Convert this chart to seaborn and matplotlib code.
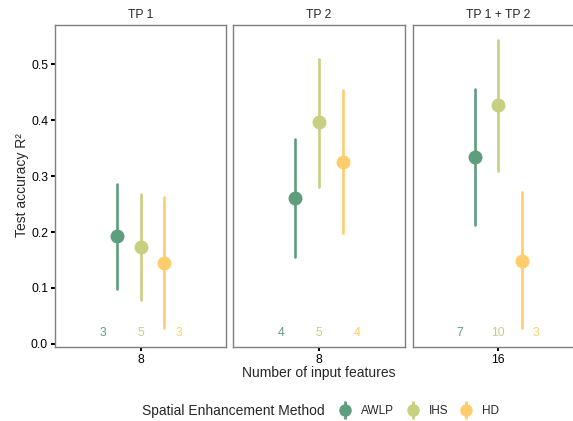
import matplotlib
matplotlib.use("Agg")
import matplotlib.pyplot as plt
from matplotlib.lines import Line2D
from matplotlib.legend_handler import HandlerTuple
import seaborn as sns
import pandas as pd

sns.set_style("white")
plt.rcParams["font.family"] = ["Liberation Sans", "DejaVu Sans"]

panels = ["TP 1", "TP 2", "TP 1 + TP 2"]
n_features = ["8", "8", "16"]
methods = ["AWLP", "IHS", "HD"]
colors = ["#5f9e7d", "#c9cf80", "#ffcc6e"]

awlp_mean = [0.192, 0.261, 0.334]
awlp_lo = [0.098, 0.156, 0.212]
awlp_hi = [0.286, 0.366, 0.455]
ihs_mean = [0.173, 0.396, 0.427]
ihs_lo = [0.079, 0.281, 0.309]
ihs_hi = [0.268, 0.510, 0.544]
hd_mean = [0.145, 0.326, 0.149]
hd_lo = [0.029, 0.199, 0.028]
hd_hi = [0.262, 0.453, 0.271]

awlp_n = [3, 4, 7]
ihs_n = [5, 5, 10]
hd_n = [3, 4, 3]

means = {"AWLP": awlp_mean, "IHS": ihs_mean, "HD": hd_mean}
los = {"AWLP": awlp_lo, "IHS": ihs_lo, "HD": hd_lo}
his = {"AWLP": awlp_hi, "IHS": ihs_hi, "HD": hd_hi}
counts = {"AWLP": awlp_n, "IHS": ihs_n, "HD": hd_n}

rows = []
for i, p in enumerate(panels):
    for m in methods:
        for v in (los[m][i], means[m][i], his[m][i]):
            rows.append({"panel": p, "features": n_features[i], "method": m, "value": v})
df = pd.DataFrame(rows)

W, H = 573, 421
fig = plt.figure(figsize=(W / 100, H / 100), dpi=100)
lefts = [55, 233.3, 412.7]
pw = 171.3
top, bottom = 25, 346.7
frame_col = "#7f7f7f"
text_off = [-0.267, 0.0, 0.267]

for i, p in enumerate(panels):
    ax = fig.add_axes([lefts[i] / W, 1 - bottom / H, pw / W, (bottom - top) / H])
    sub = df[df.panel == p]
    sns.pointplot(data=sub, x="features", y="value", hue="method", hue_order=methods,
                  palette=colors, estimator="median",
                  errorbar=lambda v: (v.min(), v.max()), dodge=0.333,
                  linestyle="none", markersize=8, err_kws={"linewidth": 1.9},
                  ax=ax, legend=False)
    for j, m in enumerate(methods):
        ax.text(text_off[j], 0.02, str(counts[m][i]), color=colors[j],
                ha="center", va="center", fontsize=8.8)
    ax.set_xlim(-0.6, 0.6)
    ax.set_ylim(-0.005, 0.57)
    ax.set_xlabel("")
    ax.set_ylabel("")
    ax.set_title(p, fontsize=8.8, pad=5)
    for s in ax.spines.values():
        s.set_color(frame_col)
        s.set_linewidth(1.0)
        s.set_visible(True)
    ax.tick_params(axis="x", bottom=True, length=3, width=1.4, color="black",
                   labelsize=8.8, pad=2, labelcolor="black")
    if i == 0:
        ax.set_yticks([0.0, 0.1, 0.2, 0.3, 0.4, 0.5])
        ax.set_yticklabels(["0.0", "0.1", "0.2", "0.3", "0.4", "0.5"])
        ax.tick_params(axis="y", left=True, length=3, width=1.4, color="black",
                       labelsize=8.8, pad=2, labelcolor="black")
    else:
        ax.set_yticks([])

fig.text(22 / W, 1 - 185 / H, "Test accuracy R²", rotation=90, ha="center", va="center",
         fontsize=10)
fig.text(319 / W, 1 - 373 / H, "Number of input features", ha="center", va="center",
         fontsize=10)

fig.text(142 / W, 1 - 411 / H, "Spatial Enhancement Method", ha="left", va="center",
         fontsize=10)
handles = []
for c in colors:
    vl = Line2D([], [], color=c, marker="|", markersize=13, markeredgewidth=2, linestyle="none")
    pt = Line2D([], [], color=c, marker="o", markersize=8, linestyle="none")
    handles.append((vl, pt))
leg = fig.legend(handles, methods, handler_map={tuple: HandlerTuple(ndivide=1)},
                 ncol=3, loc="center left", bbox_to_anchor=(336 / W, 1 - 411 / H),
                 frameon=False, fontsize=8.5, handlelength=1.6, handletextpad=0.55,
                 columnspacing=0.75, borderpad=0, borderaxespad=0)

fig.savefig("out.png", dpi=100)
